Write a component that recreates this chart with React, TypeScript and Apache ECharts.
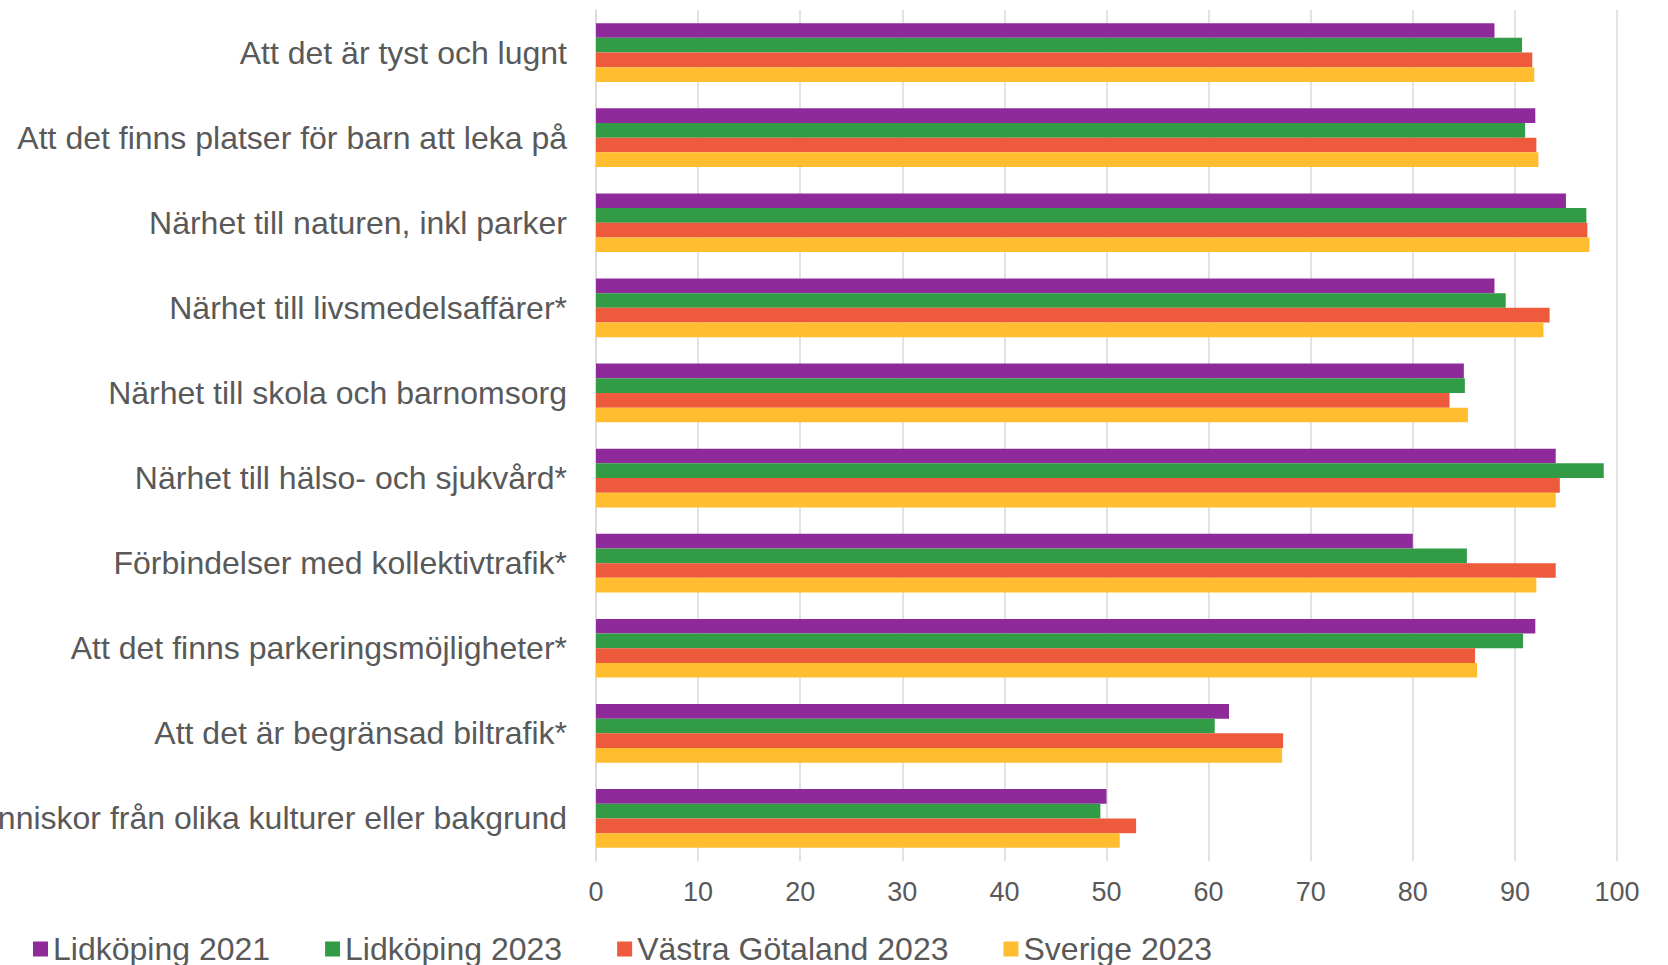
import React, { useEffect, useRef } from "react";
import * as echarts from "echarts";

const categories = [
  "Att det är tyst och lugnt",
  "Att det finns platser för barn att leka på",
  "Närhet till naturen, inkl parker",
  "Närhet till livsmedelsaffärer*",
  "Närhet till skola och barnomsorg",
  "Närhet till hälso- och sjukvård*",
  "Förbindelser med kollektivtrafik*",
  "Att det finns parkeringsmöjligheter*",
  "Att det är begränsad biltrafik*",
  "Människor från olika kulturer eller bakgrund",
];

const seriesNames = ["Lidköping 2021", "Lidköping 2023", "Västra Götaland 2023", "Sverige 2023"];
const lidkoping2021 = [88, 92, 95, 88, 85, 94, 80, 92, 62, 50];
const lidkoping2023 = [90.7, 91, 97, 89.1, 85.1, 98.7, 85.3, 90.8, 60.6, 49.4];
const vastraGotaland2023 = [91.7, 92.1, 97.1, 93.4, 83.6, 94.4, 94, 86.1, 67.3, 52.9];
const sverige2023 = [91.9, 92.3, 97.3, 92.8, 85.4, 94, 92.1, 86.3, 67.2, 51.3];
const colors = ["#8F2A9B", "#329B46", "#EE5B3C", "#FFBD2F"];

export default function App() {
  const ref = useRef<HTMLDivElement>(null);
  useEffect(() => {
    if (!ref.current) return;
    const chart = echarts.init(ref.current, null, { renderer: "svg" });
    const data = [lidkoping2021, lidkoping2023, vastraGotaland2023, sverige2023];
    chart.setOption({
      animation: false,
      color: colors,
      textStyle: { fontFamily: "Liberation Sans, Arial, sans-serif" },
      grid: { left: 596, right: 51, top: 10, bottom: 104, outerBoundsMode: "none", containLabel: false },
      legend: {
        left: 28,
        top: 928,
        itemWidth: 15,
        itemHeight: 15,
        itemGap: 55,
        icon: "rect",
        textStyle: { fontSize: 32, color: "#595959", fontFamily: "Liberation Sans, Arial, sans-serif" },
        data: seriesNames,
      },
      xAxis: {
        type: "value",
        min: 0,
        max: 100,
        interval: 10,
        axisLine: { show: false },
        axisTick: { show: false },
        splitLine: { lineStyle: { color: "#D9D9D9", width: 1.5 } },
        axisLabel: { fontSize: 27, color: "#595959", margin: 17 },
      },
      yAxis: {
        type: "category",
        inverse: true,
        data: categories,
        axisLine: { show: true, lineStyle: { color: "#D9D9D9", width: 1.5 } },
        axisTick: { show: false },
        axisLabel: { fontSize: 32, color: "#595959", margin: 29 },
      },
      series: seriesNames.map((name, i) => ({
        name,
        type: "bar",
        data: data[i],
        barGap: "0%",
        barCategoryGap: "31%",
        itemStyle: { color: colors[i] },
      })),
    });
    return () => chart.dispose();
  }, []);
  return (
    <div
      ref={ref}
      style={{ position: "fixed", left: 0, top: 0, width: 1668, height: 965, background: "#fff" }}
    />
  );
}
